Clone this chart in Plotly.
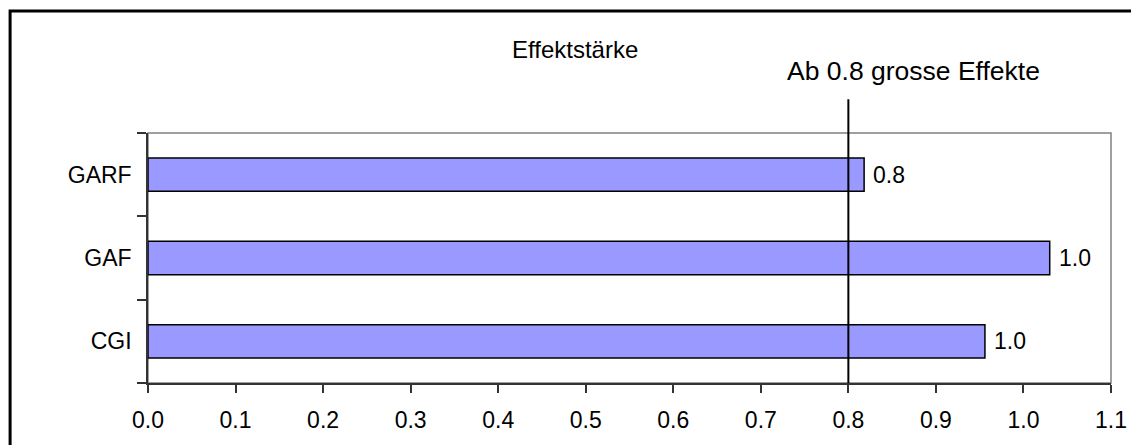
import plotly.graph_objects as go

categories = ["CGI", "GAF", "GARF"]
values = [0.956, 1.03, 0.818]
x_ticks = [0.0, 0.1, 0.2, 0.3, 0.4, 0.5, 0.6, 0.7, 0.8, 0.9, 1.0, 1.1]
threshold = 0.8
title_text = "Effektstärke"
threshold_text = "Ab 0.8 grosse Effekte"

FONT = "Liberation Sans, Arial, sans-serif"

fig = go.Figure()
fig.add_trace(go.Bar(
    y=categories, x=values, orientation="h",
    marker=dict(color="#9999FF", line=dict(color="black", width=1.5)),
    hoverinfo="skip",
))

# data labels
for c, v in zip(categories, values):
    fig.add_annotation(x=v, y=c, xref="x", yref="y", text=f"{v:.1f}",
                       showarrow=False, xanchor="left", xshift=7,
                       font=dict(family=FONT, size=23, color="black"))

# gray plot frame
fig.add_shape(type="rect", xref="paper", yref="paper", x0=0, x1=1, y0=0, y1=1,
              line=dict(color="#808080", width=1.5), layer="below")

# threshold line
fig.add_shape(type="line", xref="x", yref="paper", x0=threshold, x1=threshold,
              y0=0, y1=1.135, line=dict(color="black", width=2))

# outer frame (cropped at right/bottom)
fig.add_shape(type="rect", xref="paper", yref="paper",
              x0=-0.1432, x1=1.2, y0=-0.5, y1=1.488,
              line=dict(color="black", width=3))

fig.add_annotation(x=0.443, y=1.333, xref="paper", yref="paper", text=title_text,
                   showarrow=False, xanchor="center", yanchor="middle",
                   font=dict(family=FONT, size=24, color="black"))
fig.add_annotation(x=0.795, y=1.25, xref="paper", yref="paper", text=threshold_text,
                   showarrow=False, xanchor="center", yanchor="middle",
                   font=dict(family=FONT, size=26.5, color="black"))

fig.update_layout(
    width=1131, height=437,
    margin=dict(l=140, r=23, t=125, b=60),
    paper_bgcolor="white", plot_bgcolor="white",
    showlegend=False, bargap=0.6,
    font=dict(family=FONT, size=22, color="black"),
)
fig.update_xaxes(range=[0, 1.1], tickvals=x_ticks, tickformat=".1f",
                 ticks="outside", ticklen=8, tickwidth=1.5, tickcolor="#333333",
                 showline=True, linecolor="#333333", linewidth=1.5,
                 showgrid=False, zeroline=False, fixedrange=True,
                 ticklabelstandoff=8,
                 tickfont=dict(family=FONT, size=23))
fig.update_yaxes(type="category", categoryorder="array", categoryarray=categories,
                 tickson="boundaries", ticks="outside", ticklen=9, tickwidth=1.5,
                 tickcolor="#333333", showline=True, linecolor="#333333", linewidth=1.5,
                 showgrid=False, zeroline=False, fixedrange=True,
                 ticklabelstandoff=10,
                 tickfont=dict(family=FONT, size=23))

fig.write_html("out.html")
